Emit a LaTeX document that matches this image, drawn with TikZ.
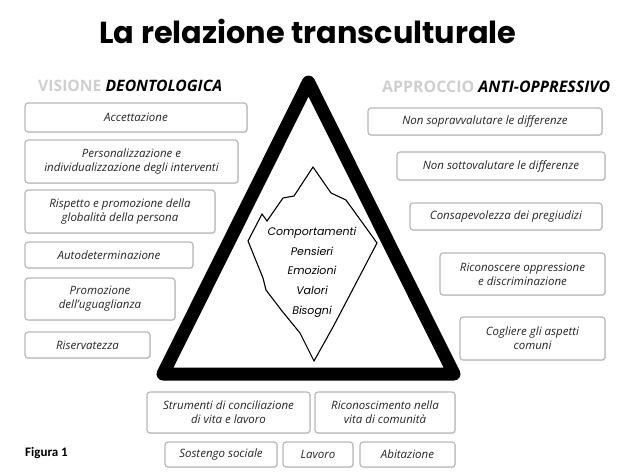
\documentclass[tikz,border=0pt]{standalone}
\usepackage{fontspec}
\setmainfont{Open Sans}
\newfontfamily\titlefont{Poppins}
\newfontfamily\figfont{Carlito}
\usetikzlibrary{shadows}
\begin{document}
\begin{tikzpicture}[x=1pt,y=-1pt,
  bx/.style={draw=gray!55, line width=1.2pt, rounded corners=3pt, fill=white,
    drop shadow={opacity=0.25, shadow xshift=0.8pt, shadow yshift=-0.8pt},
    inner sep=1pt, align=center, text=black!85, font=\fontsize{11.5}{14}\selectfont\itshape},
  hdr/.style={inner sep=0pt, font=\fontsize{12}{14}\selectfont},
  ice/.style={inner sep=0pt, align=center, font=\titlefont\itshape\fontsize{11}{19.7}\selectfont},
  tri/.style={line width=13pt, line join=round, draw=black},
  berg/.style={line width=1.1pt, line join=miter, draw=black}
]
\useasboundingbox (0,0) rectangle (618,474);

% title
\node[inner sep=0pt] (title) at (308,31) {\resizebox{417pt}{!}{\titlefont\bfseries La relazione transculturale}};

% headers
\node[hdr, anchor=west] (hl) at (38,86) {\resizebox{184pt}{!}{{\color{gray!38}\bfseries VISIONE} \textbf{\textit{DEONTOLOGICA}}}};
\node[hdr, anchor=west] (hr) at (382,87) {\resizebox{228pt}{!}{{\color{gray!38}\bfseries APPROCCIO} \textbf{\textit{ANTI-OPPRESSIVO}}}};

% triangle
\coordinate (TA) at (308.5,82);
\coordinate (TL) at (163,374);
\coordinate (TR) at (454,374);
\draw[tri] (TA) -- (TL) -- (TR) -- cycle;

% iceberg
\draw[berg] (313,167) -- (331,193) -- (346,200) -- (377,243) -- (343,308) -- (333,327)
  -- (314,361) -- (300,333) -- (282,311) -- (266,290) -- (263,278) -- (248,241)
  -- (262,214) -- (267,221) -- (283,198) -- (294,196) -- cycle;
\node[ice] (bergtext) at (312,272) {Comportamenti\\Pensieri\\Emozioni\\Valori\\Bisogni};

% left column
\node[bx, minimum width=222pt, minimum height=29pt] (acc) at (136,117.5) {Accettazione};
\node[bx, minimum width=213pt, minimum height=43pt] (pers) at (131.5,161.5) {Personalizzazione e\\individualizzazione degli interventi};
\node[bx, minimum width=190pt, minimum height=43pt] (risp) at (120,211.5) {Rispetto e promozione della\\globalità della persona};
\node[bx, minimum width=168pt, minimum height=26pt] (auto) at (109,255) {Autodeterminazione};
\node[bx, minimum width=150pt, minimum height=42pt] (prom) at (100,299) {Promozione\\dell'uguaglianza};
\node[bx, minimum width=125pt, minimum height=26pt] (ris) at (87.5,345) {Riservatezza};

% right column
\node[bx, minimum width=234pt, minimum height=27pt] (nsopra) at (485,121.5) {Non sopravvalutare le differenze};
\node[bx, minimum width=208pt, minimum height=28pt] (nsotto) at (501,166) {Non sottovalutare le differenze};
\node[bx, minimum width=192pt, minimum height=27pt] (consa) at (506,216.5) {Consapevolezza dei pregiudizi};
\node[bx, minimum width=165pt, minimum height=42pt] (ricon) at (522.5,274) {Riconoscere oppressione\\e discriminazione};
\node[bx, minimum width=145pt, minimum height=43pt] (cogl) at (532.5,338.5) {Cogliere gli aspetti\\comuni};

% bottom
\node[bx, minimum width=163pt, minimum height=41pt] (strum) at (228.5,412.5) {Strumenti di conciliazione\\di vita e lavoro};
\node[bx, minimum width=140pt, minimum height=41pt] (ricvita) at (385,412.5) {Riconoscimento nella\\vita di comunità};
\node[bx, minimum width=112pt, minimum height=25pt] (sost) at (221,454.5) {Sostengo sociale};
\node[bx, minimum width=70pt, minimum height=25pt] (lav) at (318,454.5) {Lavoro};
\node[bx, minimum width=95pt, minimum height=25pt] (abit) at (407.5,454.5) {Abitazione};

% figure label
\node[inner sep=0pt, anchor=west, font=\figfont\bfseries\fontsize{13}{15}\selectfont] (fig) at (25,453) {Figura 1};
\end{tikzpicture}
\end{document}
